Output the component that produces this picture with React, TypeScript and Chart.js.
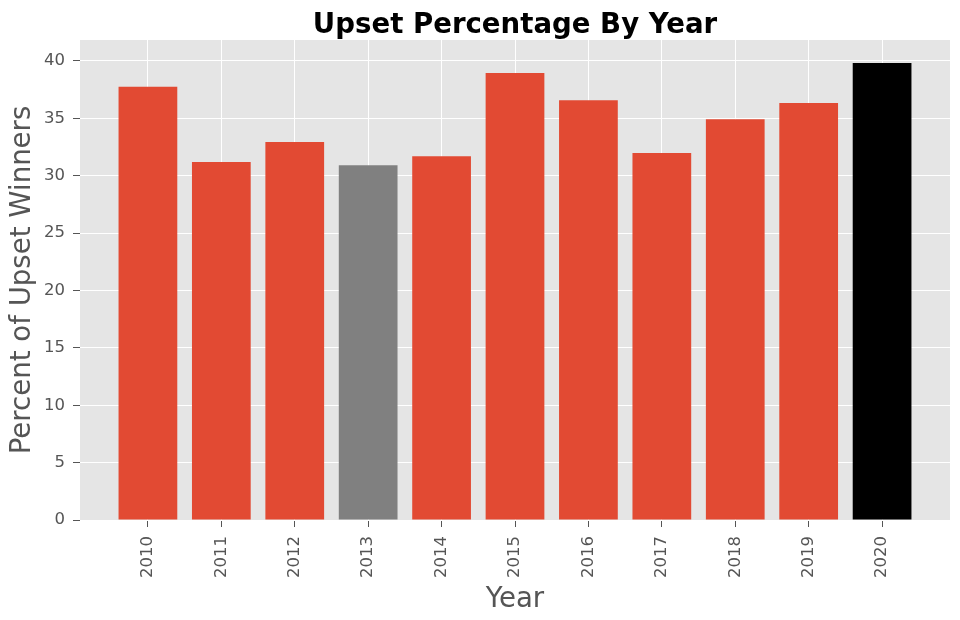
import React, { useEffect, useRef } from "react";
import { Chart, registerables } from "chart.js";

Chart.register(...registerables);

const years = ["2010", "2011", "2012", "2013", "2014", "2015", "2016", "2017", "2018", "2019", "2020"];
const upsetPct = [37.76, 31.2, 32.94, 30.91, 31.69, 38.95, 36.57, 31.98, 34.92, 36.34, 39.83];
const barColors = ["#E24A33", "#E24A33", "#E24A33", "#808080", "#E24A33", "#E24A33", "#E24A33", "#E24A33", "#E24A33", "#E24A33", "#000000"];
const yTicks = [0, 5, 10, 15, 20, 25, 30, 35, 40];

const FONT = "'DejaVu Sans', sans-serif";

const titlePlugin = {
  id: "customTitle",
  afterDraw(chart: any) {
    const { ctx, chartArea } = chart;
    ctx.save();
    ctx.font = `bold 27.6px ${FONT}`;
    ctx.fillStyle = "#000";
    ctx.textAlign = "center";
    ctx.textBaseline = "alphabetic";
    ctx.fillText("Upset Percentage By Year", (chartArea.left + chartArea.right) / 2, 33);
    ctx.restore();
  },
};

const bgPlugin = {
  id: "plotBg",
  beforeDraw(chart: any) {
    const { ctx, chartArea } = chart;
    ctx.save();
    ctx.fillStyle = "#E5E5E5";
    ctx.fillRect(chartArea.left, chartArea.top, chartArea.right - chartArea.left, chartArea.bottom - chartArea.top);
    ctx.restore();
  },
};

export default function App() {
  const ref = useRef<HTMLCanvasElement>(null);
  useEffect(() => {
    const chart = new Chart(ref.current!, {
      type: "bar",
      data: {
        datasets: [
          {
            data: upsetPct.map((v, i) => ({ x: i, y: v })),
            backgroundColor: barColors,
            borderWidth: 0,
            barPercentage: 0.8,
            categoryPercentage: 1,
          },
        ],
      },
      options: {
        animation: false,
        responsive: false,
        layout: { padding: { top: 40, right: 10, left: 0, bottom: 0 } },
        plugins: { legend: { display: false }, tooltip: { enabled: false } },
        scales: {
          x: {
            type: "linear",
            offset: false,
            min: -0.925,
            max: 10.925,
            afterFit: (s: any) => { s.height = 100; },
            afterBuildTicks: (s: any) => { s.ticks = years.map((_, i) => ({ value: i })); },
            grid: { offset: false, color: "#FFFFFF", lineWidth: 1, tickColor: "#555555", tickLength: 7, drawTicks: true },
            border: { display: false },
            ticks: {
              color: "#555555",
              font: { family: FONT, size: 16.5 },
              maxRotation: 90,
              minRotation: 90,
              padding: 9,
              autoSkip: false,
              callback: (v: any) => years[v] ?? "",
            },
            title: { display: true, text: "Year", color: "#555555", font: { family: FONT, size: 27.6 }, padding: { top: 0, bottom: 4 } },
          },
          y: {
            min: 0,
            max: 41.83,
            afterFit: (s: any) => { s.width = 80; },
            afterBuildTicks: (s: any) => { s.ticks = yTicks.map((v) => ({ value: v })); },
            grid: { color: "#FFFFFF", lineWidth: 1, tickColor: "#555555", tickLength: 7, drawTicks: true },
            border: { display: false },
            ticks: { color: "#555555", font: { family: FONT, size: 16.5 }, padding: 8 },
            title: { display: true, text: "Percent of Upset Winners", color: "#555555", font: { family: FONT, size: 27.6 }, padding: { top: 6, bottom: 0 } },
          },
        },
      },
      plugins: [bgPlugin, titlePlugin],
    });
    return () => chart.destroy();
  }, []);
  return (
    <div style={{ position: "fixed", left: 0, top: 0, width: 960, height: 620, background: "#fff" }}>
      <canvas ref={ref} width={960} height={620} />
    </div>
  );
}
